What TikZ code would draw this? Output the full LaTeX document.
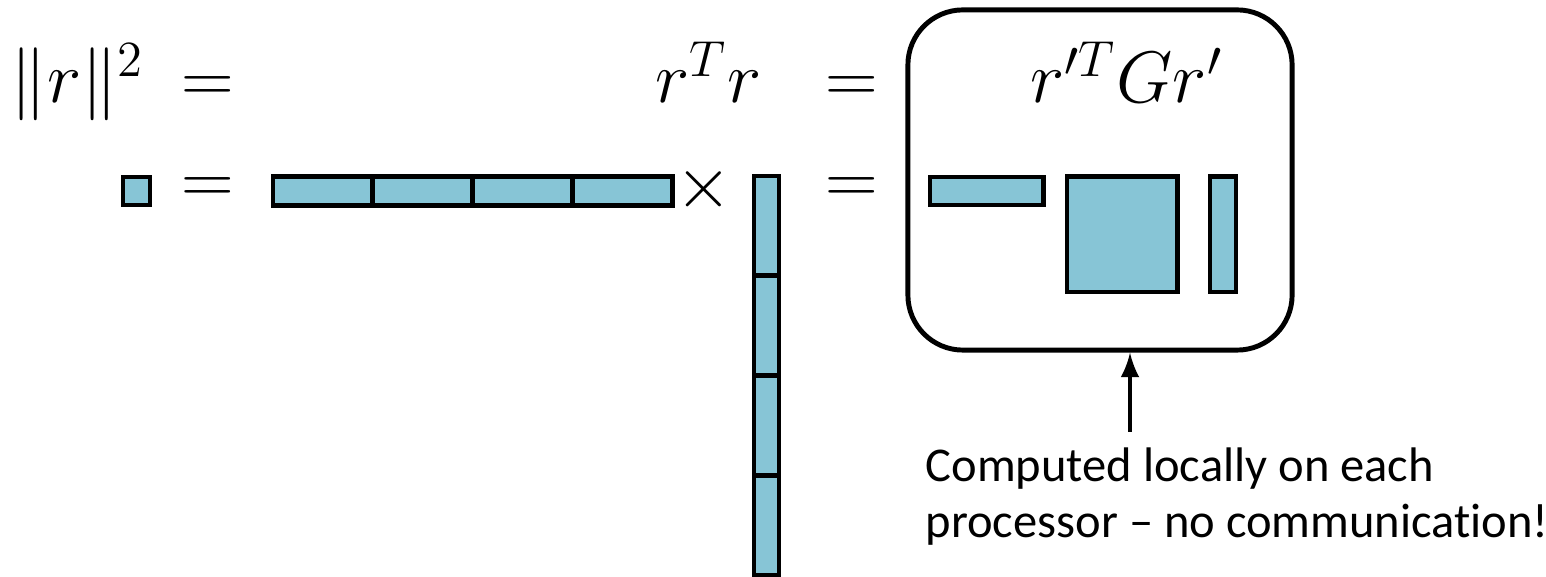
\documentclass[tikz,border=0pt]{standalone}
\usepackage{amsmath}
\usepackage{fontspec}
\newfontfamily\notefont[Ligatures=NoCommon]{Carlito}
\usetikzlibrary{arrows,positioning}
\definecolor{vecblue}{RGB}{135,197,214}

\begin{document}
\begin{tikzpicture}[x=0.01cm,y=-0.01cm,
	cell/.style={draw,line width=1.4pt,fill=vecblue,inner sep=0pt},
	eq/.style={font=\fontsize{22}{26}\selectfont,inner sep=0pt},
	note/.style={font=\notefont\fontsize{13.8}{17}\selectfont,inner sep=0pt}]
	\useasboundingbox (0,0) rectangle (1546,577);

	% formulas on top
	\node[eq,anchor=base west] (norm) at (10,103) {$\|r\|^2$};
	\node[eq,anchor=base] (eqtop1) at (208,103) {$=$};
	\node[eq,anchor=base west] (rtr) at (655,103) {$r^Tr$};
	\node[eq,anchor=base] (eqtop2) at (852,103) {$=$};
	\node[eq,anchor=base west] (rgr) at (1030,103) {$r'^T G r'$};

	% the local box
	\node[draw,line width=1.4pt,rounded corners=0.55cm,minimum width=3.84cm,minimum height=3.4cm] (procbox) at (1100,180) {};

	% shapes of the vectors
	\node[cell,minimum width=0.27cm,minimum height=0.28cm] (scal) at (136.5,191) {};
	\node[eq] (eqbot1) at (208,191) {$=$};
	\foreach \i in {0,...,3}
		\node[cell,minimum width=0.9975cm,minimum height=0.29cm] (row\i) at (322.9+99.75*\i,191) {};
	\node[eq] (times) at (704,189) {$\times$};
	\foreach \i in {0,...,3}
		\node[cell,minimum width=0.25cm,minimum height=0.9975cm] (col\i) at (766.5,225.9+99.75*\i) {};
	\node[eq] (eqbot2) at (852,191) {$=$};
	\node[cell,minimum width=1.13cm,minimum height=0.28cm] (rloc) at (986.5,191) {};
	\node[cell,minimum width=1.1cm,minimum height=1.15cm] (gmat) at (1122,234.5) {};
	\node[cell,minimum width=0.26cm,minimum height=1.15cm] (rcol) at (1223,234.5) {};

	% annotation
	\coordinate (tail) at (1130,432);
	\draw[-latex,line width=1.4pt] (tail) -- (procbox.south -| tail);
	\node[note,anchor=base west] (note1) at (925,482) {Computed locally on each};
	\node[note,anchor=base west] (note2) at (925,538) {processor – no communication!};
\end{tikzpicture}
\end{document}
